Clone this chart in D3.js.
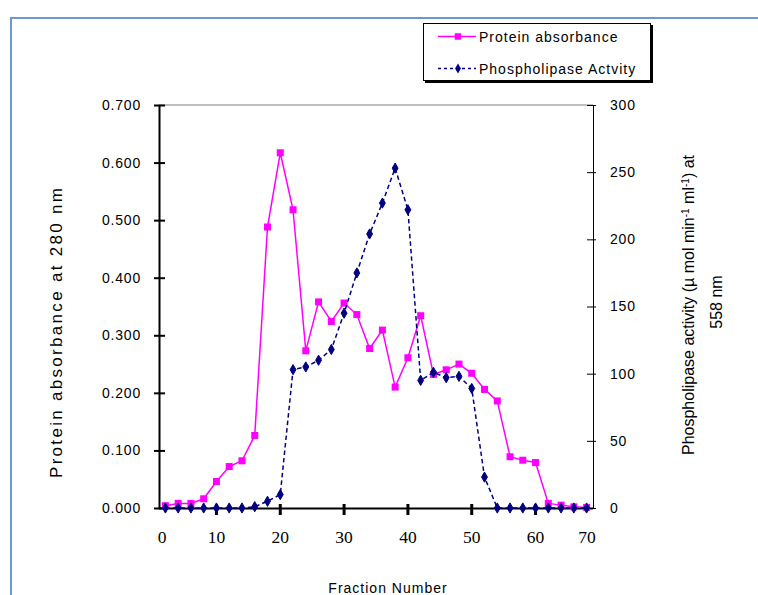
<!DOCTYPE html>
<html>
<head>
<meta charset="utf-8">
<script src="https://cdn.jsdelivr.net/npm/d3@7"></script>
<style>
  body { margin: 0; background: #fff; }
  svg { display: block; font-family: "Liberation Sans", Arial, sans-serif; }
</style>
</head>
<body>
<svg id="chart" width="758" height="595"></svg>
<script>
// fraction (tube) numbers, one point each
const fractions = [2, 4, 6, 8, 10, 12, 14, 16, 18, 20, 22, 24, 26, 28, 30, 32, 34,
                   36, 38, 40, 42, 44, 46, 48, 50, 52, 54, 56, 58, 60, 62, 64, 66, 68];
// absorbance at 280 nm (left axis)
const protein = [0.004, 0.008, 0.008, 0.016, 0.046, 0.072, 0.082, 0.126, 0.488, 0.617,
                 0.518, 0.273, 0.358, 0.324, 0.356, 0.336, 0.277, 0.309, 0.210, 0.261,
                 0.334, 0.232, 0.240, 0.250, 0.234, 0.206, 0.186, 0.089, 0.083, 0.079,
                 0.008, 0.005, 0.002, 0.001];
// phospholipase activity (right axis)
const activity = [0, 0, 0, 0, 0, 0, 0, 1, 5, 10, 103, 105, 110, 118, 145, 175, 204,
                  227, 253, 222, 95, 101, 97, 98, 89, 23, 0, 0, 0, 0, 0, 0, 0, 0];

const xTicks = [0, 10, 20, 30, 40, 50, 60, 70];
const leftTicks = [0, 0.1, 0.2, 0.3, 0.4, 0.5, 0.6, 0.7];
const rightTicks = [0, 50, 100, 150, 200, 250, 300];

const pink = '#ff00ff', navy = '#000080';

const svg = d3.select('#chart');

// outer frame
svg.append('path')
    .attr('d', 'M11,595 V18 H758')
    .attr('fill', 'none')
    .attr('stroke', '#6b98d4')
    .attr('stroke-width', 2);

// scales - plot area spans fraction 1 .. 69
const x = d3.scaleLinear().domain([1, 69]).range([159, 593]);
const yL = d3.scaleLinear().domain([0, 0.7]).range([508, 105]);
const yR = d3.scaleLinear().domain([0, 300]).range([508, 105]);

// top border of plot area
svg.append('line')
    .attr('x1', x(1)).attr('x2', x(69))
    .attr('y1', yL(0.7)).attr('y2', yL(0.7))
    .attr('stroke', '#808080');

// left axis
const gL = svg.append('g')
    .attr('transform', `translate(${x(1)},0)`)
    .call(d3.axisLeft(yL).tickValues(leftTicks).tickFormat(d3.format('.3f')).tickSizeOuter(0).tickPadding(12));
gL.select('.domain').attr('stroke', '#000').attr('stroke-width', 2);
gL.selectAll('.tick line').attr('x1', -5).attr('x2', 6).attr('stroke-width', 2);
gL.selectAll('.tick text')
    .style('font-family', '"Liberation Sans", Arial, sans-serif')
    .style('font-size', '14px').style('letter-spacing', '0.8px').attr('fill', '#000');

// right axis
const gR = svg.append('g')
    .attr('transform', `translate(${x(69)},0)`)
    .call(d3.axisRight(yR).tickValues(rightTicks).tickSizeOuter(0).tickPadding(11));
gR.select('.domain').attr('stroke', '#000');
gR.selectAll('.tick line').attr('x1', -6).attr('x2', 3);
gR.selectAll('.tick text')
    .style('font-family', '"Liberation Sans", Arial, sans-serif')
    .style('font-size', '14px').style('letter-spacing', '0.8px').attr('fill', '#000');

// bottom axis line
svg.append('line')
    .attr('x1', x(1)).attr('x2', x(69))
    .attr('y1', yL(0) + 0.5).attr('y2', yL(0) + 0.5)
    .attr('stroke', '#000').attr('stroke-width', 2);

// bold ticks inside
svg.selectAll('.xtick')
    .data(xTicks.filter(d => d > 0 && d < 70))
    .enter().append('line')
    .attr('class', 'xtick')
    .attr('x1', d => x(d)).attr('x2', d => x(d))
    .attr('y1', yL(0) - 4).attr('y2', yL(0) + 7)
    .attr('stroke', '#000').attr('stroke-width', 3);

// x labels, end labels kept inside the plot edges
svg.selectAll('.xlabel')
    .data(xTicks)
    .enter().append('text')
    .attr('class', 'xlabel')
    .attr('x', d => Math.min(Math.max(x(d), x(1) + 3), x(69) - 6))
    .attr('y', 542.5)
    .attr('text-anchor', 'middle')
    .style('font-family', '"Liberation Serif", serif')
    .style('font-size', '17.5px')
    .text(d => d);

// protein series
const linePro = d3.line().x((d, i) => x(fractions[i])).y(d => yL(d));
svg.append('path')
    .datum(protein)
    .attr('d', linePro)
    .attr('fill', 'none')
    .attr('stroke', pink)
    .attr('stroke-width', 1.5);
svg.selectAll('.pm')
    .data(protein)
    .enter().append('rect')
    .attr('class', 'pm')
    .attr('x', (d, i) => x(fractions[i]) - 3.5)
    .attr('y', d => yL(d) - 3.5)
    .attr('width', 7).attr('height', 7)
    .attr('fill', pink);

// activity series
const lineAct = d3.line().x((d, i) => x(fractions[i])).y(d => yR(d));
svg.append('path')
    .datum(activity)
    .attr('d', lineAct)
    .attr('fill', 'none')
    .attr('stroke', navy)
    .attr('stroke-width', 1.5)
    .attr('stroke-dasharray', '4.5,3');
const diamond = d3.symbol().type(d3.symbolDiamond).size(30);
svg.selectAll('.am')
    .data(activity)
    .enter().append('path')
    .attr('class', 'am')
    .attr('d', diamond)
    .attr('transform', (d, i) => `translate(${x(fractions[i])},${yR(d)})`)
    .attr('fill', navy)
    .attr('stroke', navy)
    .attr('stroke-width', 1)
    .attr('stroke-linejoin', 'round');

// axis titles
svg.append('text')
    .attr('transform', 'translate(62,333) rotate(-90)')
    .attr('text-anchor', 'middle')
    .attr('textLength', 290)
    .attr('lengthAdjust', 'spacing')
    .style('font-size', '17px')
    .text('Protein absorbance at 280 nm');

const rt = svg.append('text')
    .attr('transform', 'translate(694,305) rotate(-90)')
    .attr('text-anchor', 'middle')
    .style('font-size', '16px');
rt.append('tspan').text('Phospholipase activity (µ mol min');
rt.append('tspan').attr('baseline-shift', 'super').style('font-size', '10px').text('-1');
rt.append('tspan').text(' ml');
rt.append('tspan').attr('baseline-shift', 'super').style('font-size', '10px').text('-1');
rt.append('tspan').text(')  at');

svg.append('text')
    .attr('transform', 'translate(721.5,302) rotate(-90)')
    .attr('text-anchor', 'middle')
    .style('font-size', '16px')
    .text('558 nm');

svg.append('text')
    .attr('x', 388).attr('y', 593)
    .attr('text-anchor', 'middle')
    .style('font-size', '14px')
    .style('letter-spacing', '1px')
    .text('Fraction Number');

// legend
const lg = svg.append('g').attr('transform', 'translate(423,23)');
lg.append('rect').attr('x', 2).attr('y', 2).attr('width', 228).attr('height', 58).attr('fill', '#000');
lg.append('rect').attr('x', 0.5).attr('y', 0.5).attr('width', 227).attr('height', 57)
    .attr('fill', '#fff').attr('stroke', '#000');

const legendItems = [
    { name: 'Protein absorbance', color: pink, dash: null, mark: 'square', y: 13.5 },
    { name: 'Phospholipase Actvity', color: navy, dash: '3,3', mark: 'diamond', y: 45.5 }
];
const li = lg.selectAll('.li').data(legendItems).enter().append('g')
    .attr('transform', d => `translate(0,${d.y})`);
li.append('line')
    .attr('x1', 15).attr('x2', 53)
    .attr('stroke', d => d.color)
    .attr('stroke-width', 1.5)
    .attr('stroke-dasharray', d => d.dash);
li.append('path')
    .attr('d', d => d3.symbol().type(d.mark === 'square' ? d3.symbolSquare : d3.symbolDiamond).size(d.mark === 'square' ? 42 : 30)())
    .attr('transform', 'translate(35,0)')
    .attr('fill', d => d.color);
li.append('text')
    .attr('x', 56).attr('y', 5)
    .style('font-size', '14px')
    .style('letter-spacing', '1px')
    .text(d => d.name);
</script>
</body>
</html>
